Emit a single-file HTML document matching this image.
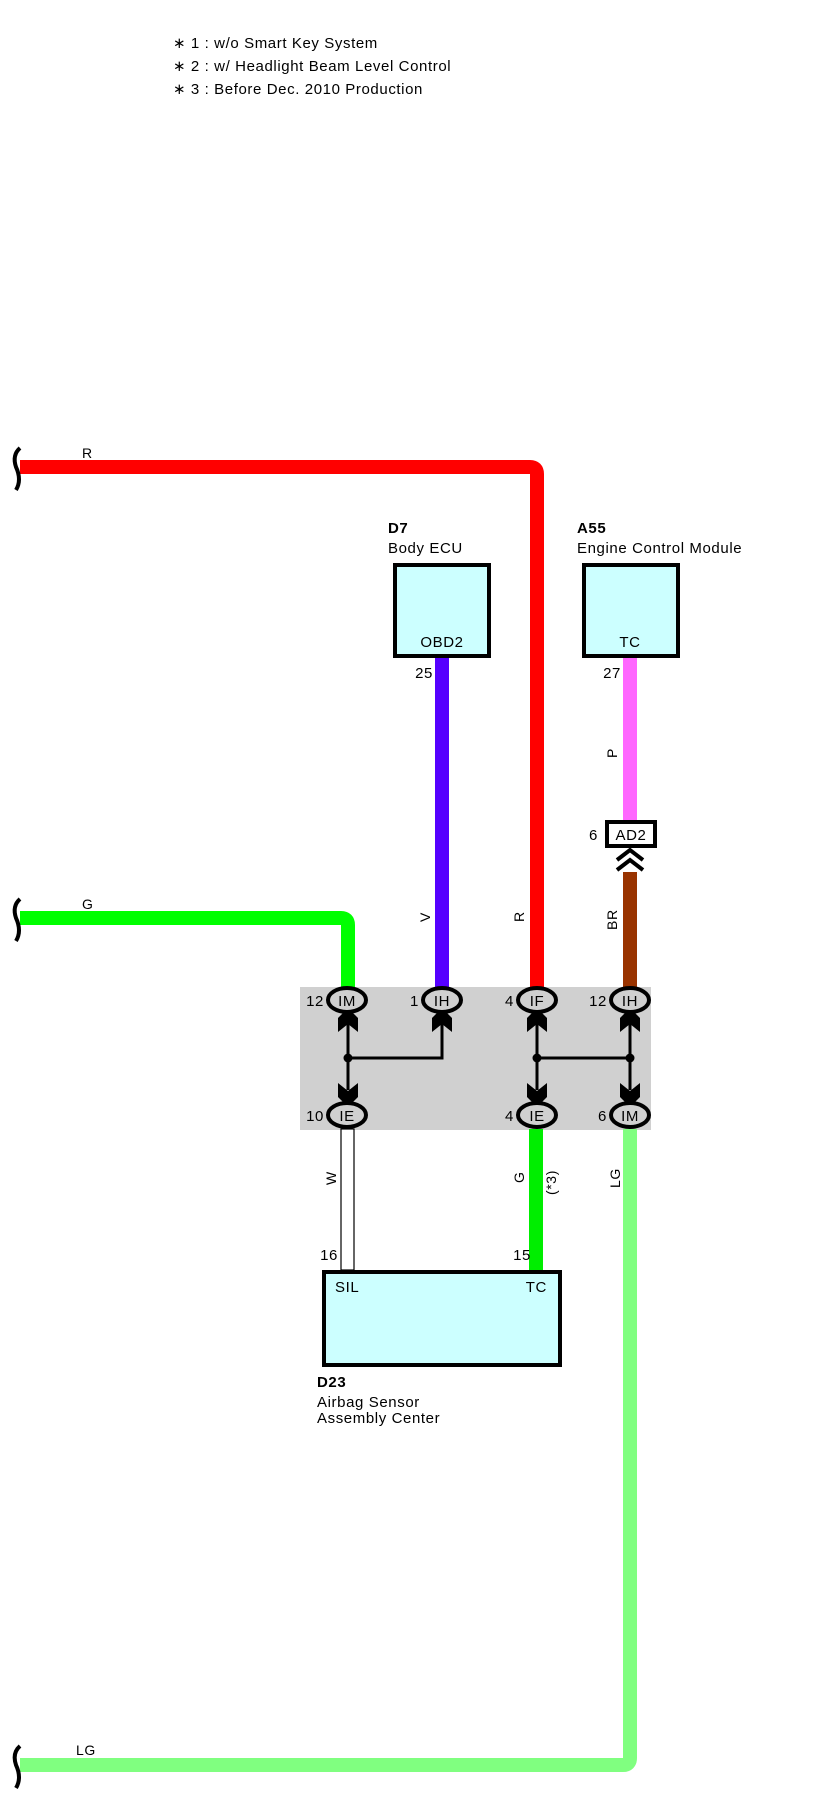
<!DOCTYPE html>
<html><head><meta charset="utf-8"><style>
html,body{margin:0;padding:0;background:#fff;}
svg{display:block;}
text{font-family:"Liberation Sans",Arial,sans-serif;fill:#000;letter-spacing:0.6px;}
</style></head><body>
<svg width="816" height="1812" viewBox="0 0 816 1812" xmlns="http://www.w3.org/2000/svg">
<defs>
<g id="up"><polygon points="-10,18 0,8 10,18 10,32 0,24 -10,32" fill="#000"/></g>
<g id="dn"><polygon points="-10,-18 0,-8 10,-18 10,-32 0,-24 -10,-32" fill="#000"/></g>
</defs>
<g font-size="15">
<text x="173" y="48">∗ 1 : w/o Smart Key System</text>
<text x="173" y="71">∗ 2 : w/ Headlight Beam Level Control</text>
<text x="173" y="94">∗ 3 : Before Dec.  2010 Production</text>
</g>
<rect x="300" y="987" width="351" height="143" fill="#d0d0d0"/>
<path d="M20 467 H530 Q537 467 537 474 V987" fill="none" stroke="#ff0000" stroke-width="14"/>
<path d="M20 918 H341 Q348 918 348 925 V987" fill="none" stroke="#00ff00" stroke-width="14"/>
<path d="M20 1765 H623 Q630 1765 630 1758 V1129" fill="none" stroke="#80ff80" stroke-width="14"/>
<line x1="442" y1="657" x2="442" y2="987" stroke="#5500ff" stroke-width="14"/>
<line x1="630" y1="658" x2="630" y2="820" stroke="#ff66ff" stroke-width="14"/>
<line x1="630" y1="872" x2="630" y2="987" stroke="#993300" stroke-width="14"/>
<line x1="536" y1="1129" x2="536" y2="1270" stroke="#00ee00" stroke-width="14"/>
<rect x="341" y="1129" width="13" height="141" fill="#fff" stroke="#000" stroke-width="1.2"/>
<g fill="none" stroke="#000" stroke-width="4">
<path d="M20 448 Q12 455 16 467 Q22 480 16 490"/>
<path d="M20 899 Q12 906 16 918 Q22 931 16 941"/>
<path d="M20 1746 Q12 1753 16 1765 Q22 1778 16 1788"/>
</g>
<g font-size="14">
<text x="82" y="458">R</text>
<text x="82" y="909">G</text>
<text x="76" y="1755">LG</text>
</g>
<rect x="395" y="565" width="94" height="91" fill="#ccffff" stroke="#000" stroke-width="4"/>
<rect x="584" y="565" width="94" height="91" fill="#ccffff" stroke="#000" stroke-width="4"/>
<rect x="324" y="1272" width="236" height="93" fill="#ccffff" stroke="#000" stroke-width="4"/>
<g font-size="15">
<text x="388" y="533" font-weight="bold">D7</text>
<text x="388" y="553">Body ECU</text>
<text x="577" y="533" font-weight="bold">A55</text>
<text x="577" y="553">Engine Control Module</text>
<text x="442" y="647" text-anchor="middle">OBD2</text>
<text x="630" y="647" text-anchor="middle">TC</text>
<text x="433" y="678" text-anchor="end">25</text>
<text x="621" y="678" text-anchor="end">27</text>
<text x="335" y="1292">SIL</text>
<text x="547" y="1292" text-anchor="end">TC</text>
<text x="338" y="1260" text-anchor="end">16</text>
<text x="531" y="1260" text-anchor="end">15</text>
<text x="317" y="1387" font-weight="bold">D23</text>
<text x="317" y="1407">Airbag Sensor</text>
<text x="317" y="1423">Assembly Center</text>
</g>
<rect x="607" y="822" width="48" height="24" fill="#fff" stroke="#000" stroke-width="4"/>
<text x="631" y="840" font-size="15" text-anchor="middle">AD2</text>
<text x="598" y="840" font-size="15" text-anchor="end">6</text>
<polyline points="617,860 630,850 643,860" fill="none" stroke="#000" stroke-width="4"/>
<polyline points="617,870 630,860 643,870" fill="none" stroke="#000" stroke-width="4"/>
<g font-size="14">
<text transform="translate(430,922) rotate(-90)">V</text>
<text transform="translate(524,922) rotate(-90)">R</text>
<text transform="translate(617,930) rotate(-90)">BR</text>
<text transform="translate(617,758) rotate(-90)">P</text>
<text transform="translate(336,1185) rotate(-90)">W</text>
<text transform="translate(524,1183) rotate(-90)">G</text>
<text transform="translate(556,1195) rotate(-90)">(*3)</text>
<text transform="translate(620,1188) rotate(-90)">LG</text>
</g>
<g stroke="#000" stroke-width="3" fill="none">
<path d="M348 1020 V1090"/>
<path d="M348 1058 H442 V1020"/>
<path d="M537 1020 V1090"/>
<path d="M630 1020 V1090"/>
<path d="M537 1058 H630"/>
</g>
<g fill="#000">
<circle cx="348" cy="1058" r="4.5"/><circle cx="537" cy="1058" r="4.5"/><circle cx="630" cy="1058" r="4.5"/>
</g>
<use href="#up" x="348" y="1000"/><use href="#up" x="442" y="1000"/><use href="#up" x="537" y="1000"/><use href="#up" x="630" y="1000"/>
<use href="#dn" x="348" y="1115"/><use href="#dn" x="537" y="1115"/><use href="#dn" x="630" y="1115"/>
<g fill="#d0d0d0" stroke="#000" stroke-width="4">
<ellipse cx="347" cy="1000" rx="19" ry="12"/>
<ellipse cx="442" cy="1000" rx="19" ry="12"/>
<ellipse cx="537" cy="1000" rx="19" ry="12"/>
<ellipse cx="630" cy="1000" rx="19" ry="12"/>
<ellipse cx="347" cy="1115" rx="19" ry="12"/>
<ellipse cx="537" cy="1115" rx="19" ry="12"/>
<ellipse cx="630" cy="1115" rx="19" ry="12"/>
</g>
<g font-size="15">
<text x="347" y="1006" text-anchor="middle">IM</text>
<text x="442" y="1006" text-anchor="middle">IH</text>
<text x="537" y="1006" text-anchor="middle">IF</text>
<text x="630" y="1006" text-anchor="middle">IH</text>
<text x="347" y="1121" text-anchor="middle">IE</text>
<text x="537" y="1121" text-anchor="middle">IE</text>
<text x="630" y="1121" text-anchor="middle">IM</text>
<text x="324" y="1006" text-anchor="end">12</text>
<text x="419" y="1006" text-anchor="end">1</text>
<text x="514" y="1006" text-anchor="end">4</text>
<text x="607" y="1006" text-anchor="end">12</text>
<text x="324" y="1121" text-anchor="end">10</text>
<text x="514" y="1121" text-anchor="end">4</text>
<text x="607" y="1121" text-anchor="end">6</text>
</g>
</svg>
</body></html>
